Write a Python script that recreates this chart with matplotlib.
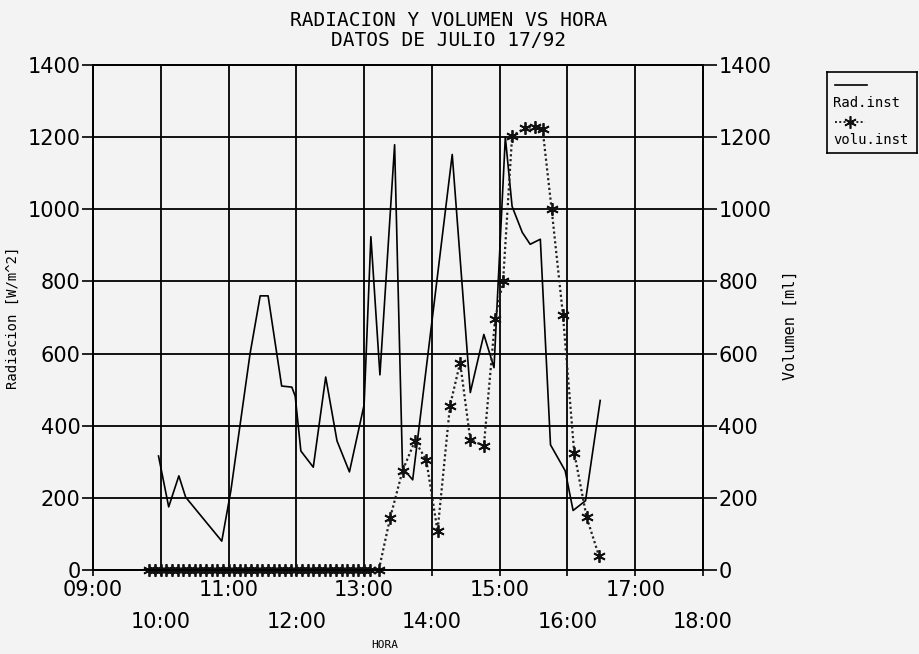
import matplotlib.pyplot as plt
from matplotlib.lines import Line2D

# Radiacion instantanea [W/m^2] vs hora
rad_hora = ["09:58", "10:07", "10:16", "10:22", "10:54", "11:02", "11:19", "11:28",
            "11:35", "11:47", "11:56", "11:59", "12:04", "12:15", "12:26", "12:36",
            "12:47", "13:00", "13:06", "13:14", "13:27", "13:34", "13:43", "14:18",
            "14:34", "14:46", "14:55", "15:05", "15:11", "15:20", "15:27", "15:36",
            "15:45", "15:58", "16:05", "16:16", "16:29"]
rad_valor = [316, 175, 261, 202, 80, 219, 599, 760,
             760, 510, 507, 482, 330, 285, 535, 358,
             272, 458, 924, 541, 1179, 283, 250, 1152,
             492, 653, 561, 1200, 1008, 936, 903, 917,
             347, 275, 165, 192, 470]

# Volumen instantaneo [ml] vs hora
vol_hora = ["09:50", "09:55", "10:00", "10:05", "10:10", "10:15", "10:20", "10:25",
            "10:30", "10:35", "10:40", "10:45", "10:50", "10:55", "11:00", "11:05",
            "11:10", "11:15", "11:20", "11:25", "11:30", "11:35", "11:40", "11:45",
            "11:50", "11:55", "12:00", "12:05", "12:10", "12:15", "12:20", "12:25",
            "12:30", "12:35", "12:40", "12:45", "12:50", "12:55", "13:00", "13:05",
            "13:13", "13:23", "13:34", "13:45", "13:55", "14:05", "14:16", "14:25",
            "14:34", "14:46", "14:56", "15:03", "15:11", "15:22", "15:31", "15:38",
            "15:46", "15:56", "16:06", "16:17", "16:28"]
vol_valor = [0, 0, 0, 0, 0, 0, 0, 0,
             0, 0, 0, 0, 0, 0, 0, 0,
             0, 0, 0, 0, 0, 0, 0, 0,
             0, 0, 0, 0, 0, 0, 0, 0,
             0, 0, 0, 0, 0, 0, 0, 0,
             0, 144, 275, 358, 305, 108, 455, 575,
             361, 344, 697, 800, 1203, 1225, 1228, 1222,
             1000, 708, 325, 146, 38]

horas_impares = [9, 11, 13, 15, 17]
horas_pares = [10, 12, 14, 16, 18]
y_ticks = [0, 200, 400, 600, 800, 1000, 1200, 1400]


def a_horas(hhmm):
    h, m = hhmm.split(":")
    return int(h) + int(m) / 60.0


def etiqueta(h):
    return "%02d:00" % h


fondo = "#f3f3f3"
mono = "DejaVu Sans Mono"
fig = plt.figure(figsize=(9.2, 6.54), dpi=100, facecolor=fondo)
ax = fig.add_axes([93 / 920, 1 - 570 / 654, 610 / 920, 505 / 654])
ax.set_facecolor(fondo)

ax.plot([a_horas(t) for t in rad_hora], rad_valor, color="black", lw=1.2, zorder=3)
ax.plot([a_horas(t) for t in vol_hora], vol_valor, color="#222222", lw=1.6,
        linestyle=(0, (1, 1.2)), marker=(6, 2, 0), markersize=9,
        markeredgewidth=1.3, markeredgecolor="#111111", zorder=4, clip_on=False)

ax.set_xlim(9, 18)
ax.set_ylim(0, 1400)
ax.set_xticks(horas_impares)
ax.set_xticklabels([etiqueta(h) for h in horas_impares])
ax.set_xticks(horas_pares, minor=True)
ax.set_xticklabels([etiqueta(h) for h in horas_pares], minor=True)
ax.tick_params(axis="x", which="major", length=4, width=1.2, pad=3, labelsize=15)
ax.tick_params(axis="x", which="minor", length=4, width=1.2, pad=26, labelsize=15)
ax.set_yticks(y_ticks)
ax.tick_params(axis="y", length=8, width=1.2, pad=1, labelsize=15)

ax.grid(True, which="both", color="black", lw=1.3)
for s in ax.spines.values():
    s.set_linewidth(1.3)

ax2 = ax.twinx()
ax2.set_ylim(0, 1400)
ax2.set_yticks(y_ticks)
ax2.tick_params(axis="y", length=10, width=1.2, pad=1, labelsize=15)
for s in ax2.spines.values():
    s.set_linewidth(1.3)

# etiquetas de ejes
fig.text(13 / 920, 1 - 318 / 654, "Radiacion [W/m^2]", family=mono, fontsize=10,
         rotation=90, ha="center", va="center")
fig.text(790 / 920, 1 - 325 / 654, "Volumen [ml]", family=mono, fontsize=11,
         rotation=90, ha="center", va="center")
fig.text(385 / 920, 1 - 645 / 654, "HORA", family=mono, fontsize=8,
         ha="center", va="center")

fig.text(449 / 920, 1 - 20 / 654, "RADIACION Y VOLUMEN VS HORA", family=mono,
         fontsize=14, ha="center", va="center")
fig.text(449 / 920, 1 - 40 / 654, "DATOS DE JULIO 17/92", family=mono,
         fontsize=14, ha="center", va="center")

# leyenda dibujada a mano
leg = fig.add_axes([827 / 920, 1 - 153 / 654, 90 / 920, 81 / 654])
leg.set_xlim(0, 90)
leg.set_ylim(81, 0)
leg.set_facecolor(fondo)
leg.set_xticks([])
leg.set_yticks([])
for s in leg.spines.values():
    s.set_linewidth(1.2)
leg.add_line(Line2D([8, 40], [13, 13], color="black", lw=1.2))
leg.text(6, 31, "Rad.inst", family=mono, fontsize=10, va="center")
leg.add_line(Line2D([8, 38], [50, 50], color="#222222", lw=1.4,
                    linestyle=(0, (1, 1.2))))
leg.add_line(Line2D([23], [50], marker=(6, 2, 0), markersize=9,
                    markeredgewidth=1.2, color="#111111"))
leg.text(6, 68, "volu.inst", family=mono, fontsize=10, va="center")

fig.savefig("out.png", dpi=100, facecolor=fondo)
